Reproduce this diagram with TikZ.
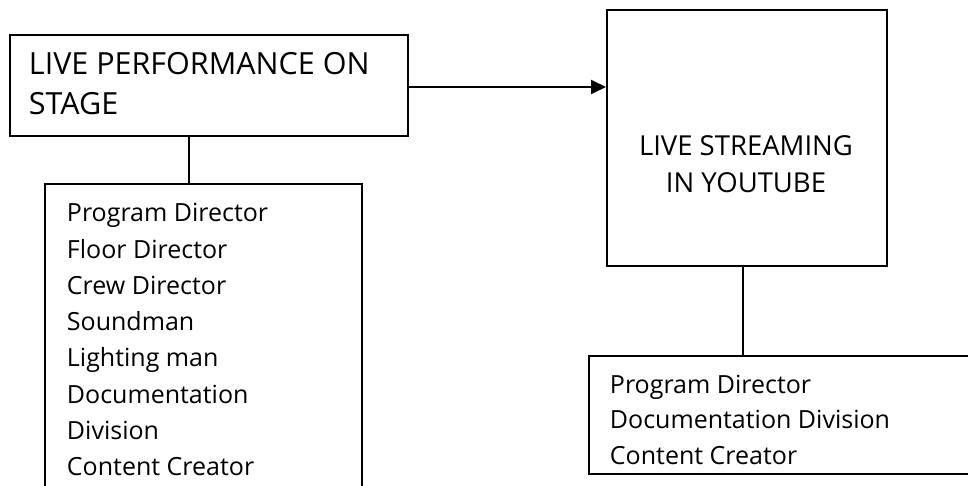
\documentclass[tikz,border=0pt]{standalone}
\usepackage{fontspec}
\setmainfont{Open Sans}
\usetikzlibrary{arrows.meta}
\begin{document}
\begin{tikzpicture}[x=1pt,y=-1pt,line width=1.9pt,
  boxstyle/.style={draw,rectangle,inner sep=0pt,anchor=north west},
  big/.style={font=\fontsize{30.5}{36}\selectfont,inner sep=0pt},
  mid/.style={font=\fontsize{27.5}{32}\selectfont,inner sep=0pt,anchor=base},
  small/.style={font=\fontsize{25}{30}\selectfont,inner sep=0pt,anchor=base west},
  conn/.style={line width=1.9pt}]
\useasboundingbox (0,0) rectangle (968,486);
\clip (0,0) rectangle (968,486);
% boxes
\node[boxstyle,minimum width=398pt,minimum height=101pt] (b1) at (9,34) {};
\node[boxstyle,minimum width=317pt,minimum height=337pt] (b2) at (44,183) {};
\node[boxstyle,minimum width=280pt,minimum height=256pt] (b3) at (606,9) {};
\node[boxstyle,minimum width=420pt,minimum height=118pt] (b4) at (588,355) {};
% texts
\node[big,anchor=base west] (t1a) at (28,75) {LIVE PERFORMANCE ON};
\node[big,anchor=base west] (t1b) at (28,115) {STAGE};
\node[mid] (t3a) at (746,156) {LIVE STREAMING};
\node[mid] (t3b) at (746,193) {IN YOUTUBE};
\foreach \txt [count=\i] in {Program Director,Floor Director,Crew Director,Soundman,Lighting man,Documentation,Division,Content Creator}
  \node[small] (t2-\i) at (66,{222+36.2*(\i-1)}) {\txt};
\foreach \txt [count=\i] in {Program Director,Documentation Division,Content Creator}
  \node[small] (t4-\i) at (609,{393+35.5*(\i-1)}) {\txt};
% connectors
\coordinate (c1) at (189,0);
\coordinate (c3) at (743,0);
\draw[conn] (b1.south -| c1) -- (b2.north -| c1);
\draw[conn] (b3.south -| c3) -- (b4.north -| c3);
\draw[conn,-{Triangle[length=15pt,width=14pt]}] (b1.east |- 0,87) -- (b3.west |- 0,87);
\end{tikzpicture}
\end{document}
